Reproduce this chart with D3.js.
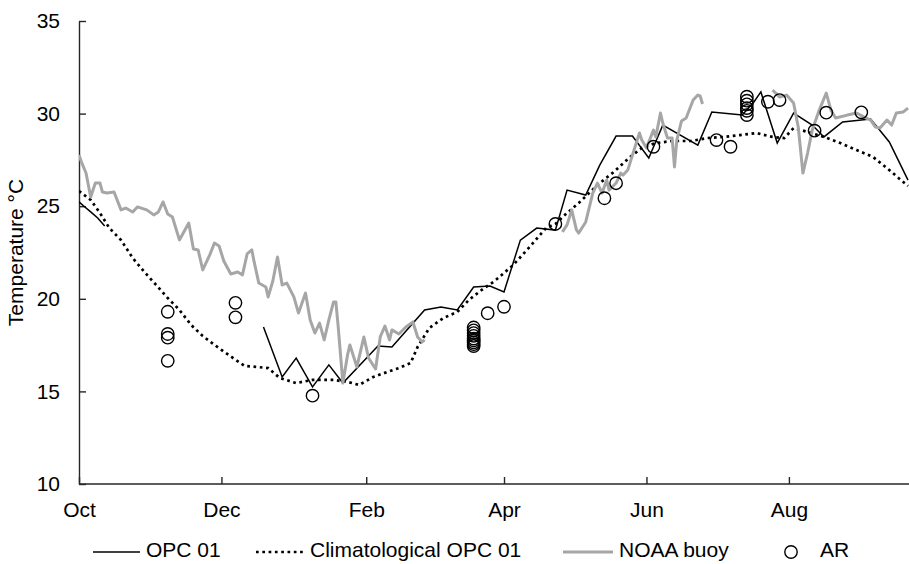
<!DOCTYPE html>
<html>
<head>
<meta charset="utf-8">
<script src="https://cdn.jsdelivr.net/npm/d3@7"></script>
<style>
  html, body { margin: 0; padding: 0; background: #fff; }
  svg { display: block; font-family: Arial, "Liberation Sans", sans-serif; }
</style>
</head>
<body>
<svg id="chart" width="909" height="564"></svg>
<script>
// Axis ticks
const monthTicks = ["2012-10-01", "2012-12-01", "2013-02-01", "2013-04-01", "2013-06-01", "2013-08-01"];
const tempTicks = [10, 15, 20, 25, 30, 35];
const seriesNames = ["OPC 01", "Climatological OPC 01", "NOAA buoy", "AR"];

// OPC 01 station temperature (null = no data)
const opcDates = [
  "2012-10-01", "2012-10-03", "2012-10-06", "2012-10-09", "2012-10-12", "2012-11-15",
  "2012-12-19", "2012-12-27", "2013-01-02", "2013-01-09", "2013-01-16", "2013-01-22",
  "2013-02-06", "2013-02-12", "2013-02-26", "2013-03-05", "2013-03-12", "2013-03-19",
  "2013-03-26", "2013-04-01", "2013-04-08", "2013-04-15", "2013-04-23", "2013-04-28",
  "2013-05-06", "2013-05-12", "2013-05-19", "2013-05-26", "2013-06-02", "2013-06-08",
  "2013-06-23", "2013-06-29", "2013-07-12", "2013-07-17", "2013-07-20", "2013-07-27",
  "2013-08-03", "2013-08-11", "2013-08-16", "2013-08-24", "2013-09-05", "2013-09-13",
  "2013-09-21"
];
const opcTemps = [
  25.23, 25.01, 24.69, 24.36, 23.93, null,
  18.48, 15.78, 16.80, 15.24, 16.43, 15.45,
  17.45, 17.40, 19.40, 19.56, 19.40, 20.64,
  20.69, 20.37, 23.17, 23.82, 23.71, 25.87,
  25.60, 27.22, 28.79, 28.79, 27.60, 29.38,
  28.30, 30.09, 29.92, 30.63, 31.17, 28.41,
  30.03, 29.38, 28.74, 29.55, 29.71, 28.47,
  26.41
];

// Climatological OPC 01
const climDates = [
  "2012-10-01", "2012-10-06", "2012-10-10", "2012-10-14", "2012-10-19", "2012-10-24",
  "2012-10-29", "2012-11-03", "2012-11-08", "2012-11-13", "2012-11-18", "2012-11-23",
  "2012-11-27", "2012-12-01", "2012-12-06", "2012-12-11", "2012-12-16", "2012-12-21",
  "2012-12-26", "2013-01-02", "2013-01-09", "2013-01-18", "2013-01-24", "2013-01-29",
  "2013-02-04", "2013-02-10", "2013-02-15", "2013-02-20", "2013-02-23", "2013-02-28",
  "2013-03-06", "2013-03-12", "2013-03-17", "2013-03-23", "2013-03-28", "2013-04-05",
  "2013-04-12", "2013-04-19", "2013-04-23", "2013-04-27", "2013-05-03", "2013-05-11",
  "2013-05-18", "2013-05-25", "2013-05-30", "2013-06-05", "2013-06-12", "2013-06-20",
  "2013-06-27", "2013-07-04", "2013-07-11", "2013-07-18", "2013-07-25", "2013-07-30",
  "2013-08-03", "2013-08-09", "2013-08-16", "2013-08-23", "2013-08-30", "2013-09-06",
  "2013-09-13", "2013-09-21"
];
const climTemps = [
  25.82, 25.34, 24.63, 23.82, 23.17, 22.20,
  21.45, 20.75, 20.04, 19.40, 18.59, 17.99,
  17.61, 17.24, 16.80, 16.37, 16.32, 16.26,
  15.72, 15.45, 15.62, 15.62, 15.51, 15.35,
  15.78, 16.05, 16.26, 16.53, 17.40, 18.42,
  18.96, 19.29, 19.94, 20.53, 20.96, 21.83,
  22.80, 23.82, 24.04, 24.52, 25.17, 26.14,
  26.85, 27.66, 28.14, 28.41, 28.52, 28.52,
  28.68, 28.74, 28.84, 28.95, 28.74, 28.68,
  29.22, 29.01, 28.74, 28.41, 28.03, 27.66,
  26.95, 26.09
];

// NOAA buoy sea surface temperature (null = gap in record)
const buoyDates = [
  "2012-10-01", "2012-10-02", "2012-10-04", "2012-10-06", "2012-10-08", "2012-10-10",
  "2012-10-11", "2012-10-13", "2012-10-16", "2012-10-19", "2012-10-21", "2012-10-24",
  "2012-10-26", "2012-10-30", "2012-11-02", "2012-11-04", "2012-11-06", "2012-11-08",
  "2012-11-10", "2012-11-13", "2012-11-17", "2012-11-19", "2012-11-21", "2012-11-23",
  "2012-11-26", "2012-11-28", "2012-11-30", "2012-12-02", "2012-12-05", "2012-12-08",
  "2012-12-10", "2012-12-12", "2012-12-14", "2012-12-15", "2012-12-17", "2012-12-20",
  "2012-12-21", "2012-12-23", "2012-12-25", "2012-12-27", "2012-12-29", "2013-01-01",
  "2013-01-03", "2013-01-06", "2013-01-08", "2013-01-10", "2013-01-12", "2013-01-14",
  "2013-01-16", "2013-01-18", "2013-01-19", "2013-01-20", "2013-01-22", "2013-01-24",
  "2013-01-25", "2013-01-28", "2013-01-31", "2013-02-02", "2013-02-05", "2013-02-07",
  "2013-02-09", "2013-02-11", "2013-02-12", "2013-02-15", "2013-02-18", "2013-02-21",
  "2013-02-23", "2013-02-25", "2013-02-26",
  "2013-04-01",
  "2013-04-26", "2013-04-28", "2013-04-30", "2013-05-02", "2013-05-03", "2013-05-06",
  "2013-05-09", "2013-05-11", "2013-05-13", "2013-05-15", "2013-05-16", "2013-05-19",
  "2013-05-21", "2013-05-22", "2013-05-24", "2013-05-26", "2013-05-29", "2013-05-30",
  "2013-06-01", "2013-06-04", "2013-06-05", "2013-06-07", "2013-06-08", "2013-06-10",
  "2013-06-12", "2013-06-13", "2013-06-14", "2013-06-16", "2013-06-18", "2013-06-21",
  "2013-06-23", "2013-06-24", "2013-06-25",
  "2013-07-10",
  "2013-07-25", "2013-07-28", "2013-07-31", "2013-08-03", "2013-08-05", "2013-08-07",
  "2013-08-09", "2013-08-11", "2013-08-14", "2013-08-17", "2013-08-19", "2013-08-21",
  "2013-08-26", "2013-08-30", "2013-09-02", "2013-09-05", "2013-09-07", "2013-09-09",
  "2013-09-12", "2013-09-14", "2013-09-16", "2013-09-19", "2013-09-21"
];
const buoyTemps = [
  27.76, 27.40, 26.79, 25.50, 26.25, 26.25,
  25.77, 25.71, 25.77, 24.80, 24.90, 24.69,
  24.96, 24.80, 24.53, 24.69, 25.23, 24.58,
  24.42, 23.18, 24.09, 22.69, 22.64, 21.56,
  22.37, 23.01, 22.85, 22.04, 21.34, 21.45,
  21.29, 22.42, 22.64, 21.99, 20.85, 20.64,
  20.10, 20.96, 22.26, 20.75, 20.85, 20.10,
  19.23, 20.31, 18.86, 18.15, 18.69, 17.78,
  18.86, 19.83, 19.83, 18.48, 15.45, 16.97,
  17.51, 16.32, 17.94, 16.80, 16.21, 17.94,
  18.53, 17.78, 18.32, 18.10, 18.48, 18.75,
  17.94, 17.67, 17.78,
  null,
  23.61, 23.99, 24.80, 23.72, 23.55, 24.15,
  25.71, 26.25, 25.71, 26.41, 25.87, 26.25,
  26.79, 26.68, 26.95, 27.76, 28.95, 28.57,
  28.14, 29.11, 28.74, 30.03, 29.49, 28.68,
  28.68, 27.12, 28.57, 29.60, 29.76, 30.73,
  31.00, 30.95, 30.52,
  null,
  31.27, 30.90, 31.00, 30.57, 29.28, 26.79,
  27.87, 29.11, 30.19, 31.11, 30.19, 29.76,
  29.92, 30.03, 29.82, 29.65, 29.28, 29.22,
  29.65, 29.38, 30.03, 30.09, 30.30
];

// AR sampling temperatures
const arDates = [
  "2012-11-08", "2012-11-08", "2012-11-08", "2012-11-08",
  "2012-12-07", "2012-12-07",
  "2013-01-09",
  "2013-03-19", "2013-03-19", "2013-03-19", "2013-03-19", "2013-03-19",
  "2013-03-19", "2013-03-19", "2013-03-19", "2013-03-19",
  "2013-03-25", "2013-04-01", "2013-04-23", "2013-05-14", "2013-05-19",
  "2013-06-04", "2013-07-01", "2013-07-07",
  "2013-07-14", "2013-07-14", "2013-07-14", "2013-07-14", "2013-07-14", "2013-07-14",
  "2013-07-23", "2013-07-28", "2013-08-12", "2013-08-17", "2013-09-01"
];
const arTemps = [
  19.30, 18.10, 17.90, 16.65,
  19.78, 19.00,
  14.77,
  18.45, 18.30, 18.15, 18.00, 17.85, 17.75, 17.65, 17.55, 17.45,
  19.22, 19.57, 24.04, 25.43, 26.24,
  28.21, 28.57, 28.21,
  30.91, 30.70, 30.50, 30.30, 30.15, 29.92,
  30.64, 30.73, 29.08, 30.05, 30.07
];

const parse = d3.utcParse("%Y-%m-%d");
const zip = (dates, temps) => dates.map((d, i) => ({ date: parse(d), temp: temps[i] }));

const opc = zip(opcDates, opcTemps);
const clim = zip(climDates, climTemps);
const buoy = zip(buoyDates, buoyTemps);
const ar = zip(arDates, arTemps);

const plot = { left: 79, right: 909, top: 21, bottom: 484 };

const x = d3.scaleUtc()
  .domain([parse("2012-10-01"), parse("2013-09-21")])
  .range([plot.left, 908]);
const y = d3.scaleLinear().domain([10, 35]).range([plot.bottom, plot.top]);

const svg = d3.select("#chart");
const axisColor = "#262626";
const fontSize = 21;

svg.append("defs").append("clipPath").attr("id", "plot-clip")
  .append("rect")
  .attr("x", plot.left).attr("y", plot.top - 10)
  .attr("width", plot.right - plot.left).attr("height", plot.bottom - plot.top + 10);

// Axes
const xAxis = d3.axisBottom(x)
  .tickValues(monthTicks.map(parse))
  .tickFormat(d3.utcFormat("%b"))
  .tickSizeInner(-7).tickSizeOuter(0).tickPadding(18);
const gx = svg.append("g").attr("transform", `translate(0,${plot.bottom})`).call(xAxis);

const yAxis = d3.axisLeft(y)
  .tickValues(tempTicks)
  .tickSizeInner(-7).tickSizeOuter(0).tickPadding(19);
const gy = svg.append("g").attr("transform", `translate(${plot.left},0)`).call(yAxis);

gx.select(".domain").attr("d", `M${plot.left},0H${plot.right}`);
[gx, gy].forEach(g => {
  g.select(".domain").attr("stroke", axisColor).attr("stroke-width", 1.4);
  g.selectAll(".tick line").attr("stroke", axisColor).attr("stroke-width", 1.4);
  g.selectAll(".tick text")
    .attr("fill", "#000")
    .style("font-size", fontSize + "px")
    .style("font-family", "Arial, 'Liberation Sans', sans-serif");
});

// Y-axis title, centred on the plot area
svg.append("text")
  .attr("transform", `translate(23,${(plot.top + plot.bottom) / 2}) rotate(-90)`)
  .attr("text-anchor", "middle")
  .style("font-size", fontSize + "px")
  .attr("fill", "#000")
  .text("Temperature °C");

// Series
const line = d3.line()
  .defined(d => d.temp != null)
  .x(d => x(d.date))
  .y(d => y(d.temp));

const series = svg.append("g").attr("clip-path", "url(#plot-clip)");

series.append("path").datum(opc)
  .attr("d", line)
  .attr("fill", "none")
  .attr("stroke", "#000")
  .attr("stroke-width", 1.5)
  .attr("stroke-linejoin", "miter");

series.append("path").datum(clim)
  .attr("d", line)
  .attr("fill", "none")
  .attr("stroke", "#000")
  .attr("stroke-width", 2.7)
  .attr("stroke-dasharray", "2.7 3.6");

series.append("path").datum(buoy)
  .attr("d", line)
  .attr("fill", "none")
  .attr("stroke", "#a6a6a6")
  .attr("stroke-width", 3)
  .attr("stroke-linejoin", "round");

series.append("g").selectAll("circle").data(ar).join("circle")
  .attr("cx", d => x(d.date))
  .attr("cy", d => y(d.temp))
  .attr("r", 6.2)
  .attr("fill", "none")
  .attr("stroke", "#000")
  .attr("stroke-width", 1.4);

// Legend
const legend = svg.append("g");
const legendY = 552;
const legendItems = [
  { name: seriesNames[0], x0: 93, x1: 140, tx: 146, kind: "solid" },
  { name: seriesNames[1], x0: 256, x1: 304, tx: 310, kind: "dotted" },
  { name: seriesNames[2], x0: 563, x1: 613, tx: 619, kind: "gray" },
  { name: seriesNames[3], x0: 791, x1: 791, tx: 820, kind: "circle" }
];
legendItems.forEach(it => {
  if (it.kind === "circle") {
    legend.append("circle").attr("cx", it.x0).attr("cy", legendY).attr("r", 6.2)
      .attr("fill", "none").attr("stroke", "#000").attr("stroke-width", 1.4);
  } else {
    const l = legend.append("line")
      .attr("x1", it.x0).attr("x2", it.x1).attr("y1", legendY).attr("y2", legendY);
    if (it.kind === "solid") l.attr("stroke", "#000").attr("stroke-width", 1.5);
    if (it.kind === "dotted") l.attr("stroke", "#000").attr("stroke-width", 2.7).attr("stroke-dasharray", "2.7 3.6");
    if (it.kind === "gray") l.attr("stroke", "#a6a6a6").attr("stroke-width", 3);
  }
  legend.append("text")
    .attr("x", it.tx).attr("y", 557)
    .style("font-size", fontSize + "px")
    .attr("fill", "#000")
    .text(it.name);
});
</script>
</body>
</html>
